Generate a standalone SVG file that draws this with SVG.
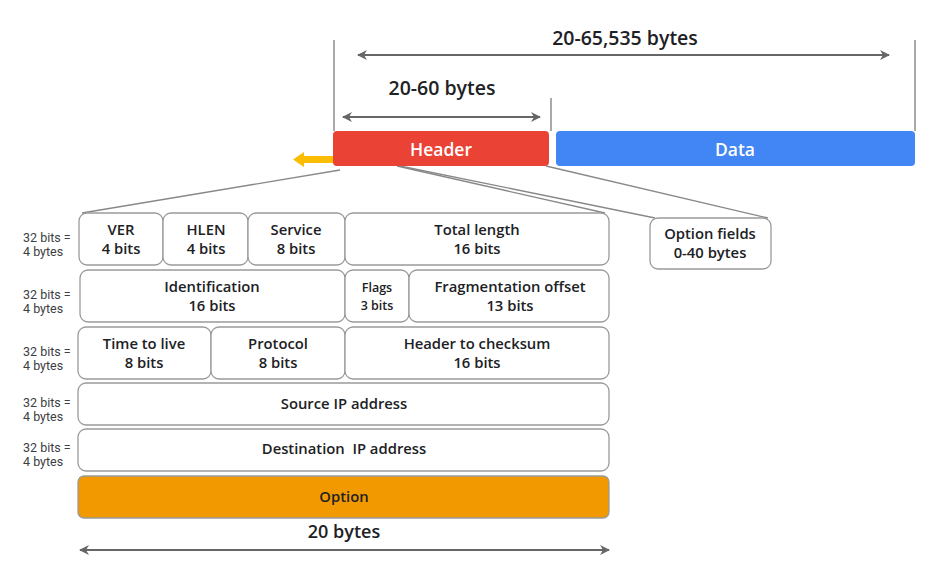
<svg xmlns="http://www.w3.org/2000/svg" width="928" height="580" viewBox="0 0 928 580">
<defs>
<marker id="ah" viewBox="0 0 10 10" refX="9" refY="5" markerWidth="10" markerHeight="10" markerUnits="userSpaceOnUse" orient="auto-start-reverse">
<path d="M0,0 L10,5 L0,10 L3,5 Z" fill="#666"/>
</marker>
</defs>
<style>
text{font-family:"Open Sans","Liberation Sans",sans-serif;font-weight:600;fill:#202124;text-anchor:middle}
.f{font-size:14.8px}
.s{font-size:12.5px}
.big{font-size:19.5px}
.lbl{font-family:Roboto,"Liberation Sans",sans-serif;font-weight:400;font-size:12.5px;fill:#3c4043;text-anchor:start}
.w{fill:#fff;font-size:17.5px;font-weight:600}
.box{fill:#fff;stroke:#9a9a9a;stroke-width:1.3}
.ln{stroke:#555;stroke-width:1;fill:none}
.gl{stroke:#888;stroke-width:1.3;fill:none}
.dim{stroke:#666;stroke-width:2;fill:none}
</style>
<rect width="928" height="580" fill="#fff"/>

<g id="connectors">
<line class="ln" x1="334" y1="40" x2="334" y2="131"/>
<line class="ln" x1="915" y1="40" x2="915" y2="131"/>
<line class="ln" x1="551" y1="98" x2="551" y2="131"/>
<line class="dim" x1="358" y1="55" x2="889" y2="55" marker-start="url(#ah)" marker-end="url(#ah)"/>
<line class="dim" x1="343" y1="117" x2="540" y2="117" marker-start="url(#ah)" marker-end="url(#ah)"/>
<line class="dim" x1="80" y1="550" x2="609" y2="550" marker-start="url(#ah)" marker-end="url(#ah)"/>
<line class="gl" x1="340" y1="170" x2="82" y2="213"/>
<line class="gl" x1="397" y1="166" x2="605" y2="213"/>
<line class="gl" x1="400" y1="166" x2="655" y2="218"/>
<line class="gl" x1="546" y1="166" x2="768" y2="218"/>
<polygon points="334,156 304,156 304,152 293,159.5 304,167 304,163 334,163" fill="#FBBC04"/>
</g>

<g id="dim-labels">
<text class="big" x="625" y="45">20-65,535 bytes</text>
<text class="big" x="442" y="95">20-60 bytes</text>
<text class="big" x="344" y="538" style="font-size:18px">20 bytes</text>
</g>

<g id="header">
<rect x="333" y="131" width="216" height="35" rx="4" fill="#EA4335"/>
<text class="w" x="441" y="156">Header</text>
</g>
<g id="data">
<rect x="556" y="131" width="359" height="35" rx="4" fill="#4285F4"/>
<text class="w" x="735" y="156">Data</text>
</g>

<g id="ver"><rect class="box" x="79" y="213" width="84" height="52" rx="8"/><text class="f" x="121" y="235">VER</text><text class="f" x="121" y="254">4 bits</text></g>
<g id="hlen"><rect class="box" x="163" y="213" width="85" height="52" rx="8"/><text class="f" x="206" y="235">HLEN</text><text class="f" x="206" y="254">4 bits</text></g>
<g id="service"><rect class="box" x="248" y="213" width="97" height="52" rx="8"/><text class="f" x="296" y="235">Service</text><text class="f" x="296" y="254">8 bits</text></g>
<g id="total-length"><rect class="box" x="345" y="213" width="264" height="52" rx="8"/><text class="f" x="477" y="235">Total length</text><text class="f" x="477" y="254">16 bits</text></g>

<g id="identification"><rect class="box" x="80" y="270" width="265" height="52" rx="8"/><text class="f" x="212" y="292">Identification</text><text class="f" x="212" y="311">16 bits</text></g>
<g id="flags"><rect class="box" x="345" y="270" width="64" height="52" rx="8"/><text class="s" x="377" y="292">Flags</text><text class="s" x="377" y="310">3 bits</text></g>
<g id="frag"><rect class="box" x="409" y="270" width="200" height="52" rx="8"/><text class="f" x="510" y="292">Fragmentation offset</text><text class="f" x="510" y="311">13 bits</text></g>

<g id="ttl"><rect class="box" x="78" y="327" width="133" height="52" rx="8"/><text class="f" x="144" y="349">Time to live</text><text class="f" x="144" y="368">8 bits</text></g>
<g id="protocol"><rect class="box" x="211" y="327" width="134" height="52" rx="8"/><text class="f" x="278" y="349">Protocol</text><text class="f" x="278" y="368">8 bits</text></g>
<g id="checksum"><rect class="box" x="345" y="327" width="264" height="52" rx="8"/><text class="f" x="477" y="349">Header to checksum</text><text class="f" x="477" y="368">16 bits</text></g>

<g id="source"><rect class="box" x="78" y="383" width="531" height="42" rx="8"/><text class="f" x="344" y="409">Source IP address</text></g>
<g id="destination"><rect class="box" x="78" y="429" width="531" height="42" rx="8"/><text class="f" x="344" y="454" xml:space="preserve">Destination  IP address</text></g>
<g id="option"><rect x="78" y="476" width="531" height="42" rx="6" fill="#F29900" stroke="#9a9a9a" stroke-width="1.3"/><text class="f" x="344" y="502">Option</text></g>

<g id="option-fields"><rect class="box" x="650" y="218" width="121" height="51" rx="8"/><text class="f" x="710" y="239">Option fields</text><text class="f" x="710" y="258">0-40 bytes</text></g>

<g id="row-labels">
<text class="lbl" x="23" y="242">32 bits =</text><text class="lbl" x="23" y="256">4 bytes</text>
<text class="lbl" x="23" y="299">32 bits =</text><text class="lbl" x="23" y="313">4 bytes</text>
<text class="lbl" x="23" y="356">32 bits =</text><text class="lbl" x="23" y="370">4 bytes</text>
<text class="lbl" x="23" y="407">32 bits =</text><text class="lbl" x="23" y="421">4 bytes</text>
<text class="lbl" x="23" y="452">32 bits =</text><text class="lbl" x="23" y="466">4 bytes</text>
</g>
</svg>
